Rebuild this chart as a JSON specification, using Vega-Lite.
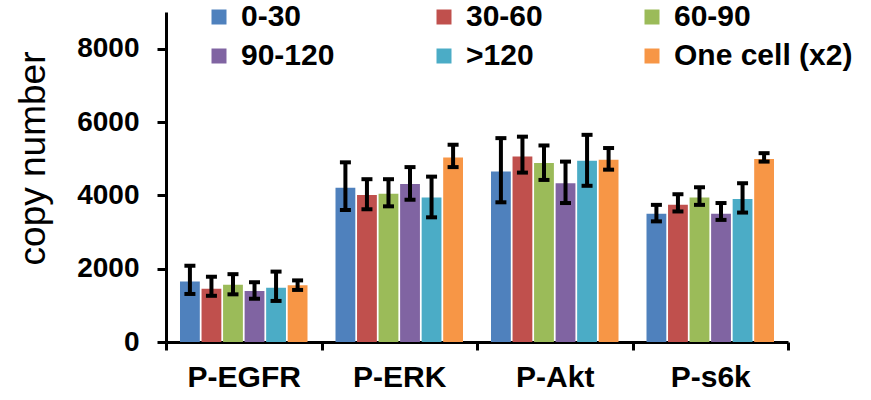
{
  "$schema": "https://vega.github.io/schema/vega-lite/v6.json",
  "width": 622,
  "height": 330,
  "autosize": "none",
  "padding": {"left": 166, "top": 12, "right": 83, "bottom": 58},
  "background": "white",
  "config": {
    "font": "Liberation Sans",
    "view": {"stroke": null}
  },
  "data": {
    "values": [
      {"target": "P-EGFR", "group": "0-30", "value": 1650, "lo": 1310, "hi": 2080},
      {"target": "P-EGFR", "group": "30-60", "value": 1450, "lo": 1260, "hi": 1780},
      {"target": "P-EGFR", "group": "60-90", "value": 1560, "lo": 1300, "hi": 1850},
      {"target": "P-EGFR", "group": "90-120", "value": 1390, "lo": 1180, "hi": 1630},
      {"target": "P-EGFR", "group": ">120", "value": 1480, "lo": 1120, "hi": 1920},
      {"target": "P-EGFR", "group": "One cell (x2)", "value": 1550, "lo": 1420, "hi": 1680},
      {"target": "P-ERK", "group": "0-30", "value": 4210, "lo": 3600, "hi": 4900},
      {"target": "P-ERK", "group": "30-60", "value": 4010, "lo": 3620, "hi": 4440},
      {"target": "P-ERK", "group": "60-90", "value": 4040, "lo": 3700, "hi": 4440},
      {"target": "P-ERK", "group": "90-120", "value": 4310, "lo": 3880, "hi": 4770},
      {"target": "P-ERK", "group": ">120", "value": 3940, "lo": 3400, "hi": 4510},
      {"target": "P-ERK", "group": "One cell (x2)", "value": 5030, "lo": 4770, "hi": 5380},
      {"target": "P-Akt", "group": "0-30", "value": 4650, "lo": 3810, "hi": 5560},
      {"target": "P-Akt", "group": "30-60", "value": 5060, "lo": 4620, "hi": 5600},
      {"target": "P-Akt", "group": "60-90", "value": 4880, "lo": 4420, "hi": 5360},
      {"target": "P-Akt", "group": "90-120", "value": 4330, "lo": 3790, "hi": 4920},
      {"target": "P-Akt", "group": ">120", "value": 4940, "lo": 4260, "hi": 5650},
      {"target": "P-Akt", "group": "One cell (x2)", "value": 4970, "lo": 4700, "hi": 5290},
      {"target": "P-s6k", "group": "0-30", "value": 3500, "lo": 3290, "hi": 3740},
      {"target": "P-s6k", "group": "30-60", "value": 3740, "lo": 3560, "hi": 4030},
      {"target": "P-s6k", "group": "60-90", "value": 3940, "lo": 3740, "hi": 4220},
      {"target": "P-s6k", "group": "90-120", "value": 3500, "lo": 3330, "hi": 3790},
      {"target": "P-s6k", "group": ">120", "value": 3900, "lo": 3530, "hi": 4330},
      {"target": "P-s6k", "group": "One cell (x2)", "value": 4990, "lo": 4920, "hi": 5150}
    ]
  },
  "encoding": {
    "x": {
      "field": "target",
      "type": "nominal",
      "sort": ["P-EGFR", "P-ERK", "P-Akt", "P-s6k"],
      "scale": {"paddingInner": 0, "paddingOuter": 0},
      "axis": {
        "title": null,
        "labelAngle": 0,
        "labelFontSize": 30,
        "labelFontWeight": "bold",
        "labelColor": "black",
        "labelPadding": 12,
        "domainColor": "black",
        "domainWidth": 3,
        "tickColor": "black",
        "tickWidth": 3,
        "tickSize": 8,
        "tickBand": "extent"
      }
    },
    "xOffset": {
      "field": "group",
      "type": "nominal",
      "sort": ["0-30", "30-60", "60-90", "90-120", ">120", "One cell (x2)"],
      "scale": {"paddingInner": 0.08, "paddingOuter": 0.65}
    }
  },
  "layer": [
    {
      "mark": {"type": "bar"},
      "encoding": {
        "y": {
          "field": "value",
          "type": "quantitative",
          "scale": {"domain": [0, 9000], "nice": false},
          "axis": {
            "values": [0, 2000, 4000, 6000, 8000],
            "format": "d",
            "grid": false,
            "title": "copy number",
            "titleFontSize": 37,
            "titleFontWeight": "normal",
            "titleColor": "black",
            "titleX": -133,
            "titleY": 146,
            "titleAlign": "center",
            "titleBaseline": "middle",
            "titleAngle": -90,
            "labelFontSize": 28,
            "labelFontWeight": "bold",
            "labelColor": "black",
            "labelPadding": 18,
            "domainColor": "black",
            "domainWidth": 3,
            "tickColor": "black",
            "tickWidth": 3,
            "tickSize": 9
          }
        },
        "color": {
          "field": "group",
          "type": "nominal",
          "sort": ["0-30", "30-60", "60-90", "90-120", ">120", "One cell (x2)"],
          "scale": {
            "domain": ["0-30", "30-60", "60-90", "90-120", ">120", "One cell (x2)"],
            "range": ["#4F81BD", "#C0504D", "#9BBB59", "#8064A2", "#4BACC6", "#F79646"]
          },
          "legend": {
            "title": null,
            "orient": "none",
            "legendX": 38,
            "legendY": -10,
            "direction": "horizontal",
            "columns": 3,
            "columnPadding": 94,
            "rowPadding": 9,
            "padding": 0,
            "symbolType": "square",
            "symbolSize": 225,
            "symbolStrokeWidth": 0,
            "symbolOpacity": 1,
            "labelFontSize": 30,
            "labelFontWeight": "bold",
            "labelColor": "black",
            "labelOffset": 7,
            "labelLimit": 400
          }
        }
      }
    },
    {
      "mark": {"type": "rule", "color": "black", "strokeWidth": 4},
      "encoding": {
        "y": {"field": "lo", "type": "quantitative"},
        "y2": {"field": "hi"}
      }
    },
    {
      "mark": {"type": "tick", "color": "black", "thickness": 4, "size": 11, "opacity": 1},
      "encoding": {
        "y": {"field": "lo", "type": "quantitative"}
      }
    },
    {
      "mark": {"type": "tick", "color": "black", "thickness": 4, "size": 11, "opacity": 1},
      "encoding": {
        "y": {"field": "hi", "type": "quantitative"}
      }
    }
  ]
}
